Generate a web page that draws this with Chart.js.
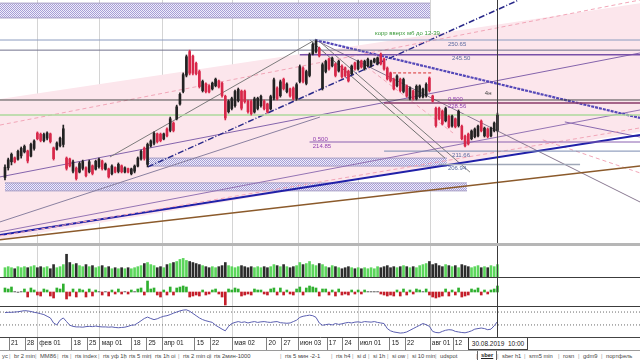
<!DOCTYPE html>
<html><head><meta charset="utf-8">
<script src="https://cdn.jsdelivr.net/npm/chart.js@4.4.1/dist/chart.umd.min.js"></script>
<style>
html,body{margin:0;padding:0;background:#fff;width:640px;height:360px;overflow:hidden;}
#wrap{position:relative;width:640px;height:360px;overflow:hidden;background:#fff;font-family:'Liberation Sans',Arial,sans-serif;}
canvas{position:absolute;left:0;display:block;}
.sep{position:absolute;left:0;width:640px;}
#tabs{position:absolute;left:0;top:350px;width:640px;height:10px;border-top:1px solid #9a9a9a;background:#fff;font-size:5.8px;color:#444;}
.tab{position:absolute;top:1px;white-space:nowrap;line-height:8px;}
.bar{position:absolute;top:1px;line-height:8px;color:#999;}
.sel{font-weight:bold;text-decoration:underline;border-left:1px solid #666;border-right:1px solid #666;padding:0 3px;margin-left:-4px;background:#fff;top:0;height:9px;line-height:9px;color:#222;}
#datebox{position:absolute;left:468px;top:337px;width:58px;height:11px;border:1px solid #444;background:#fff;font-size:6.5px;line-height:11px;text-align:center;white-space:pre;color:#222;}
</style></head>
<body><div id="wrap">
<canvas id="c1" width="640" height="243" style="top:0px"></canvas>
<div class="sep" style="top:243px;height:3px;background:#b6b6b6;"></div>
<canvas id="c2" width="640" height="31" style="top:246px"></canvas>
<div class="sep" style="top:277px;height:1px;background:#3c3c3c;"></div>
<canvas id="c3" width="640" height="28" style="top:278px"></canvas>
<div class="sep" style="top:306px;height:1px;background:#3c3c3c;"></div>
<canvas id="c4" width="640" height="43" style="top:307px"></canvas>
<div id="datebox">30.08.2019  10:00</div>
<div id="tabs"></div>
</div>
<script>
// ---- data ----
const hi=[206.8,209.2,211.0,209.6,212.0,213.1,213.8,212.0,214.5,215.6,
218.4,218.0,218.0,218.4,218.0,213.1,214.9,216.6,220.8,209.6,
209.2,208.5,206.1,207.8,208.5,206.1,208.5,206.8,208.5,209.2,
208.5,207.5,205.7,206.8,206.1,207.5,206.8,206.1,205.7,205.7,
206.8,209.6,212.0,213.1,214.5,215.6,218.4,218.0,218.0,218.0,
219.8,223.6,221.9,227.8,232.1,239.1,245.4,247.1,245.4,242.9,
240.1,236.6,235.6,234.9,235.9,237.3,236.6,235.9,231.3,229.6,
230.6,233.1,233.8,233.1,233.1,229.6,229.6,230.6,230.6,231.3,
229.6,228.5,231.3,237.3,234.2,236.6,237.3,235.6,233.8,234.2,
235.6,241.9,241.2,240.1,246.1,249.6,250.7,248.2,242.6,243.6,
244.3,244.7,242.6,243.6,241.9,241.2,240.1,241.9,242.9,243.6,
243.6,243.6,244.3,243.6,244.3,244.7,246.1,244.3,241.2,239.4,
237.3,238.4,237.3,237.3,234.9,234.2,233.1,234.9,234.9,233.8,
235.6,237.7,231.3,227.1,227.1,226.1,227.1,224.3,224.3,223.3,
226.1,220.8,217.3,218.0,219.1,219.8,220.8,222.6,220.1,219.8,
220.1,221.9,225.0];
const lo=[201.5,205.0,206.8,207.5,208.5,209.2,211.0,207.5,209.6,212.0,
215.6,214.9,214.9,215.6,214.5,208.5,212.0,213.1,213.1,205.0,
206.1,204.0,201.5,204.0,205.0,202.6,204.0,203.3,205.0,205.7,
205.0,205.0,202.2,203.3,204.0,204.0,204.0,204.0,204.0,203.3,
204.0,206.1,208.5,208.5,206.1,213.1,213.8,214.5,214.9,215.6,
216.6,218.4,218.4,222.6,227.8,232.1,237.7,238.4,238.4,238.4,
233.8,232.4,232.1,232.1,233.1,234.2,233.8,230.6,222.6,225.0,
226.1,227.1,228.9,226.1,228.5,225.0,224.3,225.0,226.1,227.1,
226.1,225.0,226.1,229.6,229.6,230.6,233.1,232.1,230.6,229.6,
229.6,235.6,235.6,234.9,237.7,245.4,246.1,244.7,233.1,239.1,
240.1,241.2,237.7,239.4,237.3,237.7,235.9,238.4,240.1,240.1,
240.8,240.1,241.2,241.2,242.6,241.9,241.9,240.1,236.6,235.9,
233.1,234.2,232.4,232.1,230.6,229.6,229.6,229.6,230.3,230.3,
230.6,232.4,228.9,220.1,222.6,220.8,221.9,219.8,220.1,219.8,
220.1,215.6,213.1,213.8,215.6,216.3,216.6,218.4,216.6,216.3,
216.6,218.4,218.4];
const op=[202.4,205.8,207.9,209.3,208.8,210.0,211.4,211.7,209.9,212.6,
218.0,217.6,215.3,216.2,217.7,212.8,212.3,213.6,214.0,209.2,
208.9,204.6,205.7,204.3,205.6,205.8,204.4,206.5,205.3,206.2,
208.2,205.3,205.4,203.7,205.9,204.5,206.5,204.3,205.5,203.7,
204.6,206.4,208.9,212.7,207.0,213.5,214.4,217.7,217.6,215.9,
219.4,218.9,221.5,223.0,228.2,232.6,238.3,246.6,245.0,242.5,
239.6,232.9,235.3,234.6,233.5,234.6,236.3,235.5,230.9,225.5,
226.6,227.6,229.4,232.7,232.7,229.2,229.1,225.4,226.6,227.6,
229.2,228.2,226.5,230.2,233.8,231.1,236.9,232.5,233.5,233.8,
230.1,236.1,240.8,235.4,238.2,245.8,246.6,247.8,233.8,239.6,
244.0,241.6,242.2,239.8,241.5,240.9,239.7,238.8,242.6,240.5,
243.3,240.6,241.6,241.5,242.9,242.3,245.7,244.0,240.8,239.1,
236.9,234.6,236.9,232.6,234.5,230.1,232.8,230.0,230.8,230.7,
231.1,237.3,231.0,226.7,226.7,225.7,222.3,223.9,220.5,223.0,
220.6,220.4,216.9,217.6,216.0,216.7,217.0,222.2,217.0,219.4,
217.0,218.8,218.9];
const cl=[206.0,208.6,210.5,207.9,211.6,212.6,213.3,208.2,214.0,215.2,
216.0,215.4,217.5,218.0,215.0,209.0,214.5,216.2,219.5,205.6,
206.5,207.9,202.0,207.3,208.0,203.0,207.9,203.8,208.1,208.8,
205.5,207.1,202.6,206.4,204.3,207.0,204.4,205.8,204.3,205.4,
206.4,209.2,211.6,209.1,214.0,215.2,217.9,215.0,215.3,217.7,
217.0,223.0,218.9,227.2,231.6,238.5,244.8,239.0,239.0,238.8,
234.3,236.1,232.5,232.4,235.5,236.9,234.2,231.1,223.3,229.1,
230.1,232.6,233.3,226.7,229.0,225.5,224.8,230.0,230.2,230.9,
226.5,225.4,230.8,236.7,230.1,236.0,233.6,235.2,231.0,230.1,
235.0,241.3,236.1,239.6,245.5,249.1,250.2,245.1,242.0,243.1,
240.5,244.3,238.2,243.2,237.8,238.1,236.3,241.5,240.5,243.2,
241.2,243.2,243.9,243.3,244.0,244.4,242.3,240.5,237.0,236.3,
233.5,238.0,232.9,236.8,231.0,233.8,230.0,234.4,234.5,233.4,
235.1,232.9,229.2,220.6,223.0,221.2,226.6,220.2,223.9,220.2,
225.6,216.0,213.5,214.2,218.7,219.4,220.4,218.8,219.7,216.7,
219.7,221.5,224.3];
const volume=[9,10,9,8,10,9,10,9,10,11,
9,10,9,10,8,12,9,10,12,22,
14,12,13,11,10,12,10,11,9,10,
11,9,10,8,9,8,9,8,9,8,
9,10,11,13,14,12,11,9,10,9,
12,13,14,15,17,18,16,15,14,13,
12,11,10,9,10,9,10,11,14,11,
10,9,10,11,10,9,10,9,10,9,
10,9,10,12,11,10,12,10,9,10,
11,14,12,13,15,12,11,13,12,10,
9,11,10,9,8,9,10,9,8,9,
8,9,8,9,8,10,9,10,11,9,
10,9,10,11,10,9,10,9,11,12,
13,15,12,13,11,10,12,11,10,11,
9,12,11,10,9,10,11,9,10,9,
11,10,12];
const delta=[4,3,5,0.5,-0.5,0.5,3,-5,4,2,
-3,-4,3,2,-4,-6,4,3,8,-7,
-4,3,-5,3,2,-5,3,-4,2,0.5,
-3,0.5,-4,2,-2,3,-2,0.5,-2,2,
0.5,3,4,-3,11,3,4,-3,-5,2,
-3,5,-3,4,5,6,5,-5,-4,-3,
-4,2,-3,-2,2,3,-2,-5,-13,3,
2,4,3,-4,-3,-2,-3,3,2,2,
-2,-3,3,4,-3,4,-3,2,-2,-3,
3,5,-3,4,6,5,4,-4,3,3,
-3,2,-4,3,-3,-2,-3,2,-2,2,
-2,2,0.5,0.5,0.5,0.5,-2,-3,-4,-3,
-4,2,-4,3,-3,2,-2,3,2,0.5,
3,-3,-5,-6,-5,-4,3,-4,2,-3,
4,-5,-4,-3,3,2,4,-3,2,-2,
2,3,6];
const osc=[87,88,88,89,90,92,94,93,91,88,
86,83,80,74,68,50,43,60,68,55,
42,38,36,36,35,37,38,37,39,37,
36,36,35,36,34,33,34,35,38,42,
43,50,58,66,71,66,62,65,70,74,
76,80,85,89,93,96,97,92,84,76,
68,62,58,55,52,42,35,28,22,38,
48,52,55,52,54,50,53,55,52,54,
55,53,52,54,55,51,50,49,50,55,
60,70,74,76,78,76,70,50,42,44,
46,43,48,45,47,50,52,50,53,54,
52,55,54,53,55,52,50,48,30,22,
18,16,14,15,18,24,30,36,42,48,
44,38,20,16,15,20,24,26,25,20,
18,16,15,18,22,28,30,32,30,26,
28,40,55];
const oscLevels=[89,43];
const tickIdx=[1.3,6.2,10.0,20.6,25.4,29.3,39.1,43.7,48.5,58.6,63.3,70.2,80.8,85.4,90.5,99.4,104.2,109.0,118.8,123.5,131.2,138.3];
const tickLabels=['21','28','фев 01','18','25','мар 01','18','25','апр 01','15','22','мая 02','20','27','июн 03','17','24','июл 01','15','22','авг 01','12'];
const cursorIdx=152;
// horizontal levels: price, from-index, to-index
const hLevels=[250.65,247.1,245.5,229.6,228.56,224.3,214.85,211.66,206.94,239.1];
const hFrom=[-2,-2,91,-2,117,-2,94,117,134,119.8];
const hTo=[197,197,197,197,197,197,197,197,177.5,132];
// trend lines: [x1, price1, x2, price2]
const trendLines=[
 [-1.54,220.8,196,264.7],[-1.54,181.9,196,219.8],[-1.54,182.2,196,217.3],[-1.54,180.5,196,206.4],
 [44.1,206.1,158.6,264.7],[95.7,250.7,196,223.3],[32.4,209.6,95.7,250.7],[95.7,250.7,196,193.8],
 [94.1,250.7,135.8,209.2],[97.2,250.0,143.5,204.3],[-1.54,202.6,196,246.1],[-1.54,183.3,196,226.1],
 [172.8,221.9,196,216.6],[111.7,241.2,138.3,218.0],[166,215.6,196,204.0],[-1.54,186.8,97.2,223.6]];
// pink channel edges: [x1, price1, x2, price2]
const channelTop=[-1.54,229.95,196,263.6];
const channelBottom=[-1.54,180.5,196,218.4];
// hatched zones: [x1, x2, priceTop, priceBottom]
const zones=[[-1.54,131.2,263.6,258.4],[44.1,136.4,209.2,206.4],[0,142.6,200.5,197.7]];
// text notes
const noteTexts=['корр вверх мб до 12-39','250.65','245.50','4н','0.500','228.56','0.500','214.85','211.66','206.94'];
const noteX=[114.2,136.7,138,148.1,136.7,136.7,95,95,138,136.7];
const noteY=[253.1,249.3,244.3,232.1,229.9,227.5,215.9,213.5,210.3,205.7];
const tabNames=['yc','br 2 min','MM86','rts','rts index','rts уф 1h','rts 5 min','rts 1h oi','rts 2 min oi','rts 2мин-1000','rts 5 мин -2-1','rts h4','si d','si 1h','si ow','si 10 min','udspot','sber','sber h1','srm5 min','rosn','gdm9','портфель'];
const tabX=[2,14,40,62,75,103,129,155,183,214,285,336,357,373,392,412,440,481,502,529,563,583,606];

// ---- view settings ----
const xMin=-1.54, xMax=196, priceMin=179.4, priceMax=264.7;
const hColors=['#8c9cc0','#72728c','#7850a8','#4a4a4a','#8a3a6a','#acd89c','#8a60b0','#7a8ab0','#a0a8b8','#d83030'];
const hWidths=[1,1,1.5,1,1.5,1.5,1,1,1.5,1];
const tColors=['#f2a6b8','#f2a6b8','#2020a8','#8b5a2b','#2a2a8a','#5548b8','#7c7c7c','#8a7a92','#6e6e6e','#7a7a7a','#8464ac','#9474b4','#8a6ab0','#f2a6b8','#f2a6b8','#8a80a0'];
const tWidths=[1,1,2,1.5,1.5,2.2,1,1,1,1,1,1,1,1,1,1];
const tDash=[[4,3],[4,3],[],[],[6,2,1,2],[3,1],[],[],[],[],[],[],[],[4,3],[4,3],[]];
const noteColors=['#3a9a3a','#5a6aa0','#5a6aa0','#444','#9040b0','#9040b0','#9040b0','#9040b0','#5a6aa0','#5a6aa0'];
const noteFont='6px "Liberation Sans", Arial, sans-serif';
const upColor='#222222', downColor='#d8284a';

function xScale(showLabels){
  return {
    type:'linear', min:xMin, max:xMax, offset:false,
    afterBuildTicks: ax => { ax.ticks = tickIdx.map(v=>({value:v})); },
    afterFit: ax => { ax.height = showLabels ? 13 : 0; },
    grid:{ color: c => ((tickLabels[c.index]||'').indexOf(' ')>0 ? '#d4d4d4' : 'rgba(0,0,0,0)'),
      drawTicks: showLabels, tickLength:13, tickColor:'#808080', offset:false, lineWidth:1 },
    border:{ display: showLabels, color:'#444' },
    ticks:{ display: showLabels, autoSkip:false, maxRotation:0, minRotation:0, align:'start', padding:-11,
      color:'#222', font:{family:'Liberation Sans', size:6.5}, callback:(v,i)=>' '+tickLabels[i] }
  };
}
function overlay(texts){
  return { id:'overlay', afterDatasetsDraw(chart){
    const {ctx, scales:{x,y}, chartArea:a} = chart;
    ctx.save();
    texts.forEach(t=>{ ctx.font=noteFont; ctx.fillStyle=t.color; ctx.textBaseline='middle'; ctx.textAlign='left';
      ctx.fillText(t.text, x.getPixelForValue(t.x), y.getPixelForValue(t.y)); });
    const cx=Math.round(x.getPixelForValue(cursorIdx))+0.5;
    ctx.strokeStyle='#3a3a3a'; ctx.lineWidth=1; ctx.beginPath(); ctx.moveTo(cx,a.top); ctx.lineTo(cx,a.bottom); ctx.stroke();
    ctx.restore();
  }};
}
const baseOpts=(yOpts,showLabels)=>({
  responsive:false, maintainAspectRatio:false, animation:false, devicePixelRatio:1, events:[],
  layout:{padding:0},
  plugins:{legend:{display:false}, tooltip:{enabled:false}},
  scales:{ x:xScale(showLabels), y:Object.assign({display:false}, yOpts) }
});
const seg=(x1,y1,x2,y2,extra)=>Object.assign({type:'line', data:[{x:x1,y:y1},{x:x2,y:y2}], pointRadius:0, tension:0, fill:false, borderWidth:1}, extra);

// ---- price chart ----
const c1=document.getElementById('c1');
const hc=document.createElement('canvas'); hc.width=2; hc.height=2;
const hg=hc.getContext('2d'); hg.fillStyle='#f0eefa'; hg.fillRect(0,0,2,2); hg.fillStyle='#a69ed6'; hg.fillRect(0,0,1,1); hg.fillRect(1,1,1,1);
const hatch=c1.getContext('2d').createPattern(hc,'repeat');

const dirColors=cl.map((c,i)=> c>=op[i] ? upColor : downColor);
const ds=[];
ds.push({type:'bar', data:op.map((o,i)=>({x:i,y:[o,cl[i]]})), backgroundColor:dirColors, barThickness:2, grouped:false, order:0});
ds.push({type:'bar', data:lo.map((l,i)=>({x:i,y:[l,hi[i]]})), backgroundColor:dirColors, barThickness:1, grouped:false, order:1});
hLevels.forEach((p,i)=>ds.push(seg(hFrom[i],p,hTo[i],p,{borderColor:hColors[i], borderWidth:hWidths[i], borderDash: i===9?[3,2]:[], order:5})));
trendLines.forEach((t,i)=>ds.push(seg(t[0],t[1],t[2],t[3],{borderColor:tColors[i], borderWidth:tWidths[i], borderDash:tDash[i], order:6})));
zones.forEach(z=>{
  ds.push(seg(z[0],z[2],z[1],z[2],{borderColor:'#a49cc4', order:15}));
  ds.push(seg(z[0],z[3],z[1],z[3],{borderColor:'#a49cc4', fill:'-1', backgroundColor:hatch, order:15}));
});
ds.push(seg(channelTop[0],channelTop[1],channelTop[2],channelTop[3],{borderWidth:0, borderColor:'rgba(0,0,0,0)', order:20}));
ds.push(seg(channelBottom[0],channelBottom[1],channelBottom[2],channelBottom[3],{borderWidth:0, borderColor:'rgba(0,0,0,0)', fill:'-1', backgroundColor:'#fce6ec', order:20}));

const notes=noteTexts.map((t,i)=>({text:t, x:noteX[i], y:noteY[i], color:noteColors[i]}));
new Chart(c1,{type:'line', data:{datasets:ds}, options:baseOpts({min:priceMin,max:priceMax},false), plugins:[overlay(notes)]});

// ---- volume ----
new Chart(document.getElementById('c2'),{type:'line', data:{datasets:[
  {type:'bar', data:volume.map((v,i)=>({x:i,y:v})), backgroundColor:cl.map((c,i)=> c>=op[i] ? '#5cd65c' : '#2c2c2c'), barThickness:2, grouped:false}
]}, options:baseOpts({min:0,max:30},false), plugins:[overlay([])]});

// ---- delta ----
new Chart(document.getElementById('c3'),{type:'line', data:{datasets:[
  {type:'bar', data:delta.map((v,i)=>({x:i,y:v})), backgroundColor:delta.map(v=> Math.abs(v)<1 ? '#707070' : (v>0 ? '#2fb02f' : '#c41e2a')), barThickness:2, grouped:false}
]}, options:baseOpts({min:-14,max:14},false), plugins:[overlay([])]});

// ---- oscillator + date axis ----
const od=[{type:'line', data:osc.map((v,i)=>({x:i,y:v})), borderColor:'#5a5eb0', borderWidth:1, pointRadius:0, tension:0, fill:false, order:0}];
oscLevels.forEach(l=>od.push(seg(xMin,l,xMax,l,{borderColor:'#6a6a6a', borderDash:[1,2], order:2})));
new Chart(document.getElementById('c4'),{type:'line', data:{datasets:od}, options:baseOpts({min:0,max:107},true), plugins:[overlay([])]});

// ---- tab bar ----
const tabs=document.getElementById('tabs');
tabNames.forEach((n,i)=>{
  if(i>0){ const b=document.createElement('span'); b.className='bar'; b.textContent='|'; b.style.left=(tabX[i]-5)+'px'; tabs.appendChild(b); }
  const s=document.createElement('span'); s.className='tab'+(n==='sber'?' sel':''); s.textContent=n; s.style.left=tabX[i]+'px'; tabs.appendChild(s);
});
</script>
</body></html>
